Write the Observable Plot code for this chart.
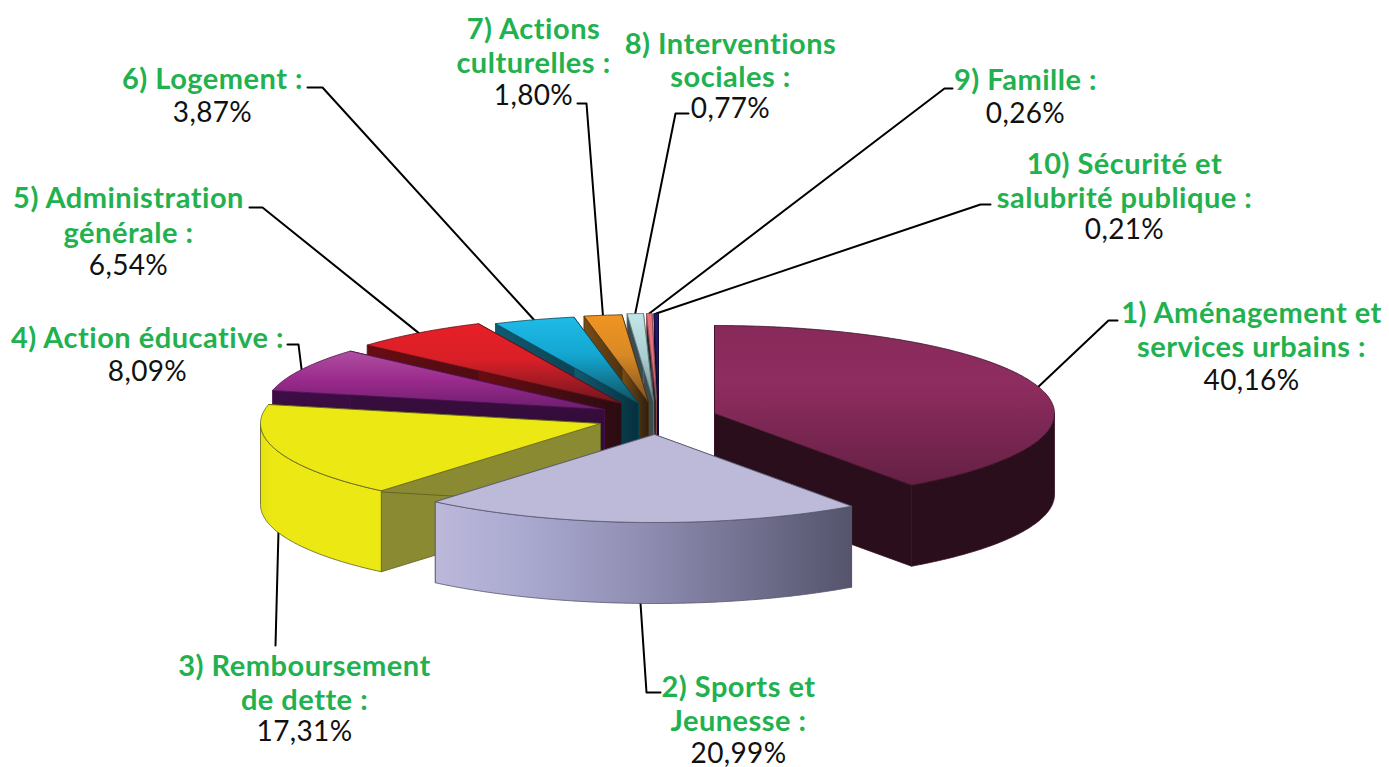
<!DOCTYPE html>
<html>
<head>
<meta charset="utf-8">
<script src="https://cdn.jsdelivr.net/npm/d3@7"></script>
<script src="https://cdn.jsdelivr.net/npm/@observablehq/plot@0.6"></script>
<style>
html,body{margin:0;padding:0;background:#fff}
svg{display:block}
.names text{letter-spacing:.5px}
.vals text{letter-spacing:.35px}
</style>
</head>
<body>
<div id="chart"></div>
<script>
// ---- data ----
const categories = [
  ["1) Aménagement et", "services urbains :"],
  ["2) Sports et", "Jeunesse :"],
  ["3) Remboursement", "de dette :"],
  ["4) Action éducative :"],
  ["5) Administration", "générale :"],
  ["6) Logement :"],
  ["7) Actions", "culturelles :"],
  ["8) Interventions", "sociales :"],
  ["9) Famille :"],
  ["10) Sécurité et", "salubrité publique :"]
];
const values = [40.16, 20.99, 17.31, 8.09, 6.54, 3.87, 1.80, 0.77, 0.26, 0.21];

// ---- pie layout: exploded slice apex, ellipse radii, wall height ----
const apexX = [714, 654, 600, 604, 621, 638, 648, 653, 656, 658];
const apexY = [413, 434, 423, 409, 403, 403, 402, 401, 401, 401];
const rx = 340, ry = 88, depth = 81;

// ---- styles ----
const topFill = ["url(#t0)", "#bdbad9", "#ebe813", "url(#t3)", "url(#t4)", "url(#t5)", "url(#t6)", "url(#t7)", "#e8707c", "#1d1a6b"];
const wallFill = ["#2b0e1b", "#8f8db3", "#8a8a33", "url(#w3)", "url(#w4)", "url(#w5)", "url(#w6)", "#3b4c50", "#2a2a2a", "#0c0a33"];
const outerFill = ["#2b0e1b", "url(#o1)", "url(#o2)", "#320c3a", "#4a0b10", "#0b4456", "#5c3a12", "#4a5f63", "#333", "#0c0a33"];
const edge = ["#3a1226", "#55546c", "#5c5c20", "#4a1050", "#5a0f14", "#0b4456", "#4a3010", "#5d7276", "#8a4a50", "#0c0a33"];
const green = "#22b14f";

// ---- label layout ----
const labelX = [1251, 738, 304, 147, 128, 212, 533, 730, 1025, 1124];
const labelY = [[322, 356, 389], [696, 730, 762], [675, 709, 740], [347, 380], [207, 242, 274], [88, 121], [38, 72, 104], [53, 86, 117], [89, 122], [173, 207, 238]];
const elbowX = [1108, 646, 275, 298, 262, 322, 586, 675, 944, 980];
const elbowY = [320, 692, 645, 344, 207, 87, 103, 113, 88, 204];
const tailX = [1117, 660, 275, 287, 249, 307, 577, 688, 952, 990];
const tailY = [320, 692, 645, 344, 207, 87, 103, 113, 88, 204];

// ---- geometry derived from the values ----
const rad = d => d * Math.PI / 180;
let cum = 0;
const slices = values.map((v, i) => {
  const a0 = cum * 3.6; cum += v; const a1 = cum * 3.6;
  return {i, a0, a1, cx: apexX[i], cy: apexY[i]};
});
const pt = (s, a, dz = 0) => ({x: s.cx + rx * Math.sin(rad(a)), y: s.cy - ry * Math.cos(rad(a)) + dz});
const arc = (s, a0, a1, dz = 0) => {
  const n = Math.max(2, Math.ceil(Math.abs(a1 - a0) * 2));
  return d3.range(n + 1).map(k => pt(s, a0 + (a1 - a0) * k / n, dz));
};
const apex = (s, dz = 0) => ({x: s.cx, y: s.cy + dz});
const poly = (pts, fill, stroke, strokeWidth = 0.8) =>
  Plot.line([...pts, pts[0]], {x: "x", y: "y", fill, stroke: stroke || fill, strokeWidth, strokeLinejoin: "round"});

const sliceMarks = s => {
  const out = [];
  for (const a of [s.a0, s.a1]) {
    out.push(poly([apex(s), pt(s, a), pt(s, a, depth), apex(s, depth)], wallFill[s.i], edge[s.i]));
  }
  const f0 = Math.max(s.a0, 90), f1 = Math.min(s.a1, 270);
  if (f1 > f0) {
    out.push(poly([...arc(s, f0, f1), ...arc(s, f1, f0, depth)], outerFill[s.i], edge[s.i]));
  }
  out.push(poly([apex(s), ...arc(s, s.a0, s.a1)], topFill[s.i], edge[s.i]));
  return out;
};

const order = [9, 8, 7, 6, 5, 4, 3, 2, 0, 1];
const pieMarks = order.flatMap(i => sliceMarks(slices[i]));

const leaders = slices.map(s => {
  const m = (s.a0 + s.a1) / 2;
  const start = pt(s, m, s.i === 1 || s.i === 2 ? depth : 0);
  return Plot.line([start, {x: elbowX[s.i], y: elbowY[s.i]}, {x: tailX[s.i], y: tailY[s.i]}],
    {x: "x", y: "y", stroke: "#000", strokeWidth: 2});
});

const nameRows = categories.flatMap((lines, i) =>
  lines.map((t, k) => ({t, x: labelX[i], y: labelY[i][k]})));
const valueRows = values.map((v, i) => ({
  t: v.toFixed(2).replace(".", ",") + "%", x: labelX[i], y: labelY[i][labelY[i].length - 1]
}));
const font = 'Lato, sans-serif';

const chart = Plot.plot({
  width: 1389, height: 767, margin: 0,
  style: {background: "#fff"},
  x: {domain: [0, 1389], range: [0, 1389], axis: null},
  y: {domain: [0, 767], range: [0, 767], axis: null},
  marks: [
    ...leaders,
    ...pieMarks,
    Plot.text(nameRows, {x: "x", y: "y", text: "t", fill: green, fontSize: 29, fontWeight: 700, fontFamily: font, textAnchor: "middle", lineAnchor: "bottom", className: "names"}),
    Plot.text(valueRows, {x: "x", y: "y", text: "t", fill: "#111", fontSize: 28, fontWeight: 400, fontFamily: font, textAnchor: "middle", lineAnchor: "bottom", className: "vals"})
  ]
});

const grad = (id, stops, horizontal) =>
  `<linearGradient id="${id}" x1="0" y1="0" x2="${horizontal ? 1 : 0}" y2="${horizontal ? 0 : 1}">` +
  stops.map(([o, c]) => `<stop offset="${o}" stop-color="${c}"/>`).join("") + `</linearGradient>`;
const defs = document.createElementNS("http://www.w3.org/2000/svg", "defs");
defs.innerHTML = [
  grad("t0", [[0, "#872a5a"], [0.35, "#8f2d60"], [1, "#652044"]]),
  grad("t3", [[0, "#b04fa0"], [0.5, "#9a2a8c"], [1, "#6d1e6e"]]),
  grad("t4", [[0, "#e81f26"], [0.45, "#d91f28"], [1, "#6e1620"]]),
  grad("t5", [[0, "#1fbbe8"], [0.45, "#13a5cf"], [1, "#11505f"]]),
  grad("t6", [[0, "#f09422"], [0.45, "#d98a25"], [1, "#7a5220"]]),
  grad("t7", [[0, "#c2e6e8"], [0.5, "#a9cdd0"], [1, "#6c8a8e"]]),
  grad("w3", [[0, "#3d0d45"], [1, "#2b0c30"]]),
  grad("w4", [[0, "#6a0c12"], [0.5, "#4a0c12"], [1, "#2a0c12"]], true),
  grad("w5", [[0, "#125a70"], [1, "#06303c"]], true),
  grad("w6", [[0, "#7a4c14"], [1, "#2e2010"]], true),
  grad("o1", [[0, "#bbb8da"], [0.2, "#abaad0"], [0.5, "#8f8db2"], [1, "#55546c"]], true),
  grad("o2", [[0, "#e6e312"], [0.1, "#ebe813"], [1, "#ebe813"]], true)
].join("");
chart.insertBefore(defs, chart.firstChild);
document.getElementById("chart").appendChild(chart);
</script>
</body>
</html>
